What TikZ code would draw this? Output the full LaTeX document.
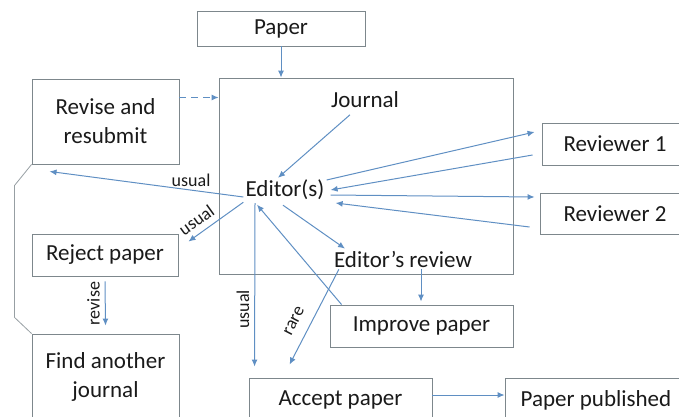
\documentclass[tikz,border=0pt]{standalone}
\usepackage{fontspec}
\setmainfont{Carlito}
\usetikzlibrary{arrows.meta, positioning}
\definecolor{BoxGray}{HTML}{7D878C}
\definecolor{FlowBlue}{HTML}{5F8FC3}
\definecolor{TextBlack}{HTML}{1A1A1A}
\tikzset{
  stage/.style={draw=BoxGray, line width=0.9pt, text=TextBlack, align=center,
                inner sep=0pt, font=\fontsize{23}{29}\selectfont},
  plain/.style={text=TextBlack, inner sep=2pt, font=\fontsize{23}{29}\selectfont},
  flow/.style={draw=FlowBlue, line width=1pt, -{Latex[length=7pt,width=6pt]}},
  tag/.style={text=TextBlack, inner sep=1pt, font=\fontsize{18}{20}\selectfont},
}
\begin{document}
\begin{tikzpicture}[x=1pt, y=-1pt]
  \useasboundingbox (0,0) rectangle (679,417);
  \clip (0,0) rectangle (679,417);
  % Boxes
  \node[stage, minimum width=168pt, minimum height=35pt] (paper) at (281,28.5) {Paper};
  \node[stage, minimum width=294pt, minimum height=196pt] (journalbox) at (366,176) {};
  \node[stage, minimum width=147pt, minimum height=85pt] (revise) at (105.5,121.5) {Revise and\\resubmit};
  \node[stage, minimum width=146pt, minimum height=42pt] (reject) at (105,255) {Reject paper};
  \node[stage, minimum width=147pt, minimum height=86pt] (find) at (105.5,377) {Find another\\journal};
  \foreach \n/\x/\y/\w/\h/\lbl in {rev1/615/144/146/42/Reviewer 1, rev2/615/213.5/150/41/Reviewer 2}{
    \node[stage, minimum width=\w pt, minimum height=\h pt] (\n) at (\x,\y) {\lbl};
  }
  \node[stage, minimum width=183pt, minimum height=42pt] (improve) at (421.5,326) {Improve paper};
  \node[stage, minimum width=183pt, minimum height=44pt] (accept) at (340.5,400) {Accept paper};
  \node[stage, minimum width=182pt, minimum height=44pt] (published) at (596,400) {Paper published};
  % Texts inside the journal box
  \node[plain] (journal) at (365,100) {Journal};
  \node[plain] (editor) at (285,190) {Editor(s)};
  \node[plain] (edrev) at (403,259) {Editor’s review};
  % Submission and resubmission
  \draw[flow] (paper.south) -- (paper.south |- journalbox.north);
  \draw[flow, dash pattern=on 7pt off 5pt] ([yshift=24pt]revise.east) -- ([yshift=24pt]revise.east -| journalbox.west);
  \draw[flow] ([xshift=-15pt,yshift=-4.5pt]journal.south) -- ([xshift=-7pt]editor.north);
  % Reviewers
  \draw[flow] ([yshift=10pt]editor.east) -- ([xshift=-7pt,yshift=12pt]rev1.west);
  \draw[flow] ([xshift=-9pt,yshift=-11pt]rev1.west) -- ([xshift=4pt]editor.east);
  \draw[flow] ([xshift=4pt,yshift=-5pt]editor.east) -- ([xshift=-5pt,yshift=16.5pt]rev2.west);
  \draw[flow] ([xshift=-10pt,yshift=-13.5pt]rev2.west) -- ([xshift=9pt,yshift=-13pt]editor.east);
  % Decisions
  \draw[flow] ([yshift=-7pt]editor.west) -- node[tag, pos=0.27, above=2pt] {usual}
    ([xshift=18pt,yshift=-7pt]revise.south west);
  \draw[flow] (editor.south west) -- node[tag, pos=0.72, sloped, above=5pt] {usual}
    ([xshift=10pt,yshift=-8pt]reject.north east);
  \draw[flow] ([xshift=-2pt,yshift=-3pt]editor.south) -- ([xshift=-58pt]edrev.north);
  \draw[flow, shorten >=3pt] ([xshift=18pt]edrev.south) -- ([xshift=18pt]edrev.south |- improve.north);
  \draw[flow] ([xshift=12pt]improve.north west) -- ([xshift=-28pt,yshift=-2.5pt]editor.south);
  \draw[flow] ([xshift=-30pt,yshift=-1pt]editor.south) -- node[tag, pos=0.65, rotate=90, anchor=south, inner sep=5pt] {usual}
    ([xshift=6pt,yshift=11pt]accept.north west);
  \draw[flow] ([xshift=7pt]edrev.south west) -- node[tag, pos=0.62, sloped, above=10pt] {rare}
    ([xshift=41pt,yshift=13pt]accept.north west);
  \draw[flow] ([yshift=-5pt]reject.south) -- node[tag, midway, rotate=90, anchor=south, inner sep=5pt] {revise}
    ([yshift=8pt]find.north);
  \draw[flow] ([yshift=5pt]accept.east) -- ([yshift=5pt]accept.east -| published.west);
  % Bracket between resubmit and another journal
  \draw[BoxGray!80, line width=0.8pt] (revise.south west) -- ++(-17,21) -- ++(0,132) -- (find.north west);
\end{tikzpicture}
\end{document}
